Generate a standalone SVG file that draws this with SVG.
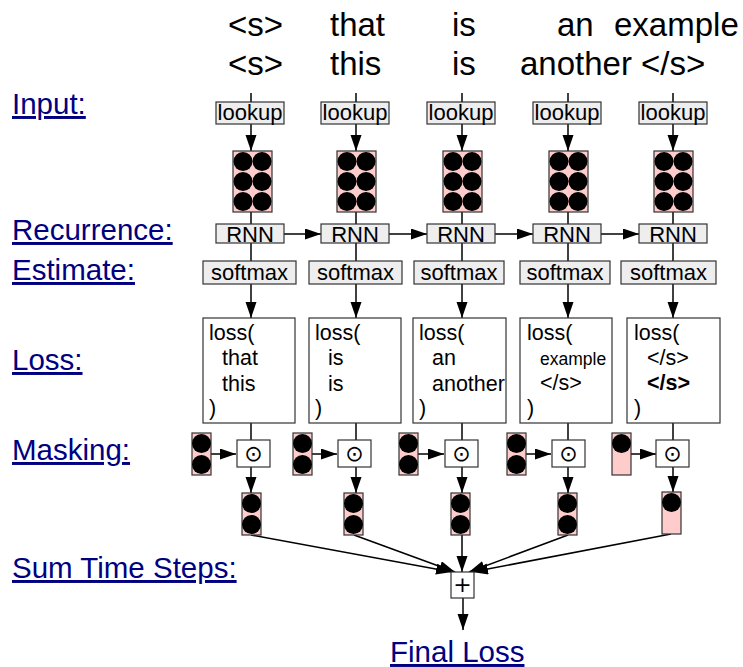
<svg xmlns="http://www.w3.org/2000/svg" width="743" height="667" viewBox="0 0 743 667">
<defs>
<style>
text{font-family:"Liberation Sans",Arial,sans-serif;fill:#000}
.top{font-size:33px}
.lbl{font-size:29.5px;fill:#000080;text-decoration:underline}
.bx{fill:#eeeeee;stroke:#333;stroke-width:1.2}
.bt{font-size:22px;text-anchor:middle}
.loss{fill:#fff;stroke:#333;stroke-width:1.2}
.lt{font-size:21.5px}
.vec{fill:#ffcccc;stroke:#333;stroke-width:1.2}
.op{fill:#fff;stroke:#333;stroke-width:1.2}
.ot{font-family:"DejaVu Sans",sans-serif;font-size:22px;text-anchor:middle}
.ln{stroke:#000;stroke-width:1.5;fill:none}
.ar{stroke:#000;stroke-width:1.5;fill:none;marker-end:url(#ah)}
</style>
<marker id="ah" markerUnits="userSpaceOnUse" markerWidth="17" markerHeight="12" refX="16" refY="5.5" orient="auto">
<path d="M0,0 L16,5.5 L0,11 z" fill="#000"/>
</marker>
<g id="emb">
<rect class="vec" x="0" y="0" width="39" height="61"/>
<circle cx="10" cy="10.5" r="9.5"/><circle cx="29" cy="10.5" r="9.5"/>
<circle cx="10" cy="30.5" r="9.5"/><circle cx="29" cy="30.5" r="9.5"/>
<circle cx="10" cy="50.5" r="9.5"/><circle cx="29" cy="50.5" r="9.5"/>
</g>
<g id="m2">
<rect class="vec" x="0" y="0" width="19" height="42"/>
<circle cx="9.5" cy="10.5" r="9.5"/><circle cx="9.5" cy="31.5" r="9.5"/>
</g>
<g id="m1">
<rect class="vec" x="0" y="0" width="19" height="42"/>
<circle cx="9.5" cy="10.5" r="9.5"/>
</g>
</defs>
<rect width="743" height="667" fill="#fff"/>

<g id="sentences">
<text class="top" x="228" y="36">&lt;s&gt;</text>
<text class="top" x="330" y="36">that</text>
<text class="top" x="452" y="36">is</text>
<text class="top" x="557" y="36">an</text>
<text class="top" x="614" y="36">example</text>
<text class="top" x="228" y="75">&lt;s&gt;</text>
<text class="top" x="330" y="75">this</text>
<text class="top" x="452" y="75">is</text>
<text class="top" x="520" y="75">another &lt;/s&gt;</text>
</g>

<g id="labels">
<text class="lbl" x="12" y="114">Input:</text>
<text class="lbl" x="12" y="240">Recurrence:</text>
<text class="lbl" x="12" y="280">Estimate:</text>
<text class="lbl" x="12" y="370">Loss:</text>
<text class="lbl" x="12" y="460">Masking:</text>
<text class="lbl" x="12" y="578">Sum Time Steps:</text>
<text class="lbl" x="390" y="662">Final Loss</text>
</g>

<g id="connectors">
<line class="ln" x1="251" y1="93" x2="251" y2="102"/>
<line class="ar" x1="251" y1="124" x2="251" y2="151"/>
<line class="ln" x1="251" y1="212" x2="251" y2="224"/>
<line class="ln" x1="251" y1="243" x2="251" y2="261"/>
<line class="ar" x1="251" y1="284" x2="251" y2="318"/>
<line class="ln" x1="251" y1="423" x2="251" y2="440"/>
<line class="ar" x1="211" y1="454" x2="236" y2="454"/>
<line class="ar" x1="251" y1="467" x2="251" y2="493"/>
<line class="ar" x1="251" y1="535" x2="452" y2="572"/>
<line class="ln" x1="356" y1="93" x2="356" y2="102"/>
<line class="ar" x1="356" y1="124" x2="356" y2="151"/>
<line class="ln" x1="356" y1="212" x2="356" y2="224"/>
<line class="ln" x1="356" y1="243" x2="356" y2="261"/>
<line class="ar" x1="356" y1="284" x2="356" y2="318"/>
<line class="ln" x1="356" y1="423" x2="356" y2="440"/>
<line class="ar" x1="312" y1="454" x2="337" y2="454"/>
<line class="ar" x1="356" y1="467" x2="356" y2="493"/>
<line class="ar" x1="354" y1="535" x2="455" y2="572"/>
<line class="ln" x1="462" y1="93" x2="462" y2="102"/>
<line class="ar" x1="462" y1="124" x2="462" y2="151"/>
<line class="ln" x1="462" y1="212" x2="462" y2="224"/>
<line class="ln" x1="462" y1="243" x2="462" y2="261"/>
<line class="ar" x1="462" y1="284" x2="462" y2="318"/>
<line class="ln" x1="462" y1="423" x2="462" y2="440"/>
<line class="ar" x1="418" y1="454" x2="444" y2="454"/>
<line class="ar" x1="462" y1="467" x2="462" y2="493"/>
<line class="ar" x1="462" y1="535" x2="462" y2="572"/>
<line class="ln" x1="568" y1="93" x2="568" y2="102"/>
<line class="ar" x1="568" y1="124" x2="568" y2="151"/>
<line class="ln" x1="568" y1="212" x2="568" y2="224"/>
<line class="ln" x1="568" y1="243" x2="568" y2="261"/>
<line class="ar" x1="568" y1="284" x2="568" y2="318"/>
<line class="ln" x1="568" y1="423" x2="568" y2="440"/>
<line class="ar" x1="526" y1="454" x2="551" y2="454"/>
<line class="ar" x1="568" y1="467" x2="568" y2="493"/>
<line class="ar" x1="568" y1="535" x2="469" y2="572"/>
<line class="ln" x1="673" y1="93" x2="673" y2="102"/>
<line class="ar" x1="673" y1="124" x2="673" y2="151"/>
<line class="ln" x1="673" y1="212" x2="673" y2="224"/>
<line class="ln" x1="673" y1="243" x2="673" y2="261"/>
<line class="ar" x1="673" y1="284" x2="673" y2="318"/>
<line class="ln" x1="673" y1="423" x2="673" y2="440"/>
<line class="ar" x1="631" y1="454" x2="656" y2="454"/>
<line class="ar" x1="673" y1="467" x2="673" y2="492"/>
<line class="ar" x1="671" y1="534" x2="472" y2="572"/>
<line class="ar" x1="284" y1="234" x2="321" y2="234"/>
<line class="ar" x1="389" y1="234" x2="427" y2="234"/>
<line class="ar" x1="495" y1="234" x2="533" y2="234"/>
<line class="ar" x1="601" y1="234" x2="639" y2="234"/>
<line class="ar" x1="463" y1="598" x2="463" y2="630"/>
</g>

<g id="col1">
<rect class="bx" x="216" y="102" width="68" height="22"/><text class="bt" x="250" y="120">lookup</text>
<use href="#emb" x="233" y="151"/>
<rect class="bx" x="216" y="224" width="68" height="19"/><text class="bt" x="250" y="241.5">RNN</text>
<rect class="bx" x="203" y="261" width="93" height="23"/><text class="bt" x="249.5" y="280">softmax</text>
<rect class="loss" x="203" y="318" width="92" height="105"/>
<text class="lt" x="209" y="340">loss(</text><text class="lt" x="222" y="365">that</text><text class="lt" x="222" y="391">this</text><text class="lt" x="209" y="415">)</text>
<use href="#m2" x="192" y="433"/>
<rect class="op" x="237" y="440" width="33" height="27"/><text class="ot" x="253.5" y="461">⊙</text>
<use href="#m2" x="242" y="493"/>
</g>

<g id="col2">
<rect class="bx" x="321" y="102" width="68" height="22"/><text class="bt" x="355" y="120">lookup</text>
<use href="#emb" x="337" y="151"/>
<rect class="bx" x="321" y="224" width="68" height="19"/><text class="bt" x="355" y="241.5">RNN</text>
<rect class="bx" x="309" y="261" width="93" height="23"/><text class="bt" x="355.5" y="280">softmax</text>
<rect class="loss" x="309" y="318" width="92" height="105"/>
<text class="lt" x="315" y="340">loss(</text><text class="lt" x="328" y="365">is</text><text class="lt" x="328" y="391">is</text><text class="lt" x="315" y="415">)</text>
<use href="#m2" x="293" y="433"/>
<rect class="op" x="338" y="440" width="33" height="27"/><text class="ot" x="354.5" y="461">⊙</text>
<use href="#m2" x="344" y="493"/>
</g>

<g id="col3">
<rect class="bx" x="427" y="102" width="68" height="22"/><text class="bt" x="461" y="120">lookup</text>
<use href="#emb" x="443" y="151"/>
<rect class="bx" x="427" y="224" width="68" height="19"/><text class="bt" x="461" y="241.5">RNN</text>
<rect class="bx" x="414" y="261" width="90" height="23"/><text class="bt" x="459" y="280">softmax</text>
<rect class="loss" x="413" y="318" width="93" height="105"/>
<text class="lt" x="419" y="340">loss(</text><text class="lt" x="432" y="365">an</text><text class="lt" x="432" y="391">another</text><text class="lt" x="419" y="415">)</text>
<use href="#m2" x="399" y="433"/>
<rect class="op" x="445" y="440" width="33" height="27"/><text class="ot" x="461.5" y="461">⊙</text>
<use href="#m2" x="451" y="493"/>
</g>

<g id="col4">
<rect class="bx" x="533" y="102" width="68" height="22"/><text class="bt" x="567" y="120">lookup</text>
<use href="#emb" x="549" y="151"/>
<rect class="bx" x="533" y="224" width="68" height="19"/><text class="bt" x="567" y="241.5">RNN</text>
<rect class="bx" x="520" y="261" width="90" height="23"/><text class="bt" x="565" y="280">softmax</text>
<rect class="loss" x="520" y="318" width="92" height="105"/>
<text class="lt" x="527" y="340">loss(</text><text class="lt" x="540" y="365" style="font-size:17.5px">example</text><text class="lt" x="540" y="390">&lt;/s&gt;</text><text class="lt" x="527" y="415">)</text>
<use href="#m2" x="507" y="433"/>
<rect class="op" x="552" y="440" width="33" height="27"/><text class="ot" x="568.5" y="461">⊙</text>
<use href="#m2" x="558" y="493"/>
</g>

<g id="col5">
<rect class="bx" x="639" y="102" width="68" height="22"/><text class="bt" x="673" y="120">lookup</text>
<use href="#emb" x="654" y="151"/>
<rect class="bx" x="639" y="224" width="68" height="19"/><text class="bt" x="673" y="241.5">RNN</text>
<rect class="bx" x="621" y="261" width="95" height="23"/><text class="bt" x="668.5" y="280">softmax</text>
<rect class="loss" x="627" y="318" width="93" height="105"/>
<text class="lt" x="634" y="340">loss(</text><text class="lt" x="647" y="365">&lt;/s&gt;</text><text class="lt" x="647" y="390" font-weight="bold">&lt;/s&gt;</text><text class="lt" x="634" y="415">)</text>
<use href="#m1" x="612" y="433"/>
<rect class="op" x="656" y="440" width="33" height="27"/><text class="ot" x="672.5" y="461">⊙</text>
<use href="#m1" x="662" y="492"/>
</g>

<g id="sum">
<rect class="op" x="451" y="572" width="23" height="26"/><text class="ot" x="462.5" y="592">+</text>
</g>
</svg>
